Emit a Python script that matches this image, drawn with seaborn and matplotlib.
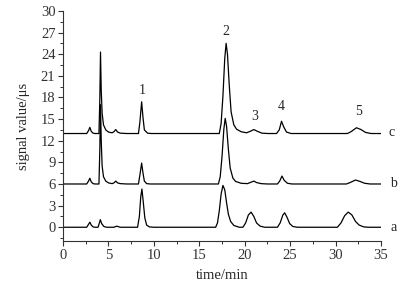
import pandas as pd
import matplotlib.pyplot as plt
import seaborn as sns
from matplotlib.ticker import MultipleLocator

# Chromatogram traces (time in min, signal above own baseline)
time_a = [0, 2.6, 2.8, 2.95, 3.1, 3.3, 3.5, 3.85, 4.0, 4.1, 4.25, 4.5, 4.8, 5.6, 5.9, 6.3,
          8.2, 8.4, 8.55, 8.68, 8.82, 9.0, 9.2, 9.5, 10, 16.8, 17.0, 17.2, 17.4, 17.6, 17.8,
          18.0, 18.2, 18.45, 18.8, 19.4, 19.8, 20.1, 20.4, 20.7, 21.0, 21.3, 21.7, 22.2, 23.6,
          23.9, 24.2, 24.4, 24.65, 24.95, 25.3, 25.8, 30.2, 30.6, 31.0, 31.4, 31.8, 32.2, 32.6,
          33.1, 33.6, 35]
sig_a = [0, 0, 0.4, 0.7, 0.3, 0.05, 0, 0, 0.6, 1.05, 0.5, 0.1, 0, 0, 0.15, 0,
         0, 1.5, 4.2, 5.3, 3.6, 1.3, 0.3, 0.05, 0, 0, 0.6, 2.3, 4.6, 5.8, 5.2,
         3.4, 1.8, 0.8, 0.25, 0, 0, 0.6, 1.7, 2.1, 1.5, 0.6, 0.15, 0, 0,
         0.6, 1.7, 2.0, 1.4, 0.5, 0.1, 0, 0, 0.6, 1.6, 2.1, 1.7, 0.8, 0.3,
         0.05, 0, 0]

time_b = [0, 2.6, 2.8, 2.95, 3.1, 3.3, 3.5, 3.95, 4.05, 4.12, 4.2, 4.3, 4.45, 4.7, 5.0, 5.4,
          5.6, 5.8, 6.0, 6.3, 7, 8.3, 8.45, 8.65, 8.8, 8.95, 9.2, 9.6, 17.1, 17.3, 17.5,
          17.7, 17.85, 18.0, 18.2, 18.4, 18.7, 19.0, 19.6, 20.3, 20.7, 21.0, 21.3, 21.8, 22.5,
          23.6, 23.85, 24.1, 24.35, 24.7, 25.2, 31.2, 31.6, 32.2, 32.7, 33.2, 33.8, 35]
sig_b = [0, 0, 0.4, 0.8, 0.3, 0.05, 0, 0, 5, 11, 6, 2.5, 1.0, 0.4, 0.15, 0.05,
         0.15, 0.4, 0.15, 0.05, 0, 0, 1.2, 2.9, 1.5, 0.4, 0.05, 0, 0, 1.0, 3.8,
         7.6, 9.1, 8.0, 4.8, 2.2, 0.8, 0.35, 0.1, 0.05, 0.25, 0.4, 0.2, 0.05, 0,
         0, 0.4, 1.1, 0.5, 0.1, 0, 0, 0.2, 0.55, 0.35, 0.1, 0, 0]

time_c = [0, 2.6, 2.8, 2.95, 3.1, 3.3, 3.5, 3.95, 4.05, 4.12, 4.2, 4.3, 4.45, 4.7, 5.0, 5.4,
          5.6, 5.8, 6.0, 6.3, 7, 8.3, 8.45, 8.65, 8.8, 8.95, 9.3, 9.7, 17.2, 17.4, 17.6,
          17.8, 17.95, 18.1, 18.3, 18.5, 18.8, 19.1, 19.6, 20.2, 20.6, 21.0, 21.4, 21.9, 22.6,
          23.5, 23.8, 24.05, 24.3, 24.6, 25.1, 31.3, 31.7, 32.3, 32.8, 33.3, 33.9, 35]
sig_c = [0, 0, 0.4, 0.85, 0.3, 0.05, 0, 0, 5, 11.3, 6, 2.8, 1.2, 0.5, 0.2, 0.1,
         0.25, 0.55, 0.2, 0.05, 0, 0, 1.5, 4.4, 2.2, 0.5, 0.05, 0, 0, 1.4, 5.2,
         10.4, 12.5, 11.0, 6.6, 3.0, 1.2, 0.6, 0.25, 0.1, 0.3, 0.55, 0.3, 0.05, 0,
         0, 0.5, 1.7, 0.9, 0.2, 0, 0, 0.25, 0.8, 0.55, 0.15, 0, 0]

trace_names = ['a', 'b', 'c']
trace_offsets = [0, 6, 13]

# Peak numbers and where their labels sit
peak_labels = ['1', '2', '3', '4', '5']
peak_label_x = [8.7, 17.9, 21.1, 24.0, 32.5]
peak_label_y = [19.0, 27.1, 15.3, 16.8, 16.0]
trace_label_x = [36.4, 36.4, 36.2]
trace_label_y = [-0.1, 6.1, 13.1]

# Build long-format table
rows = []
for name, off, t, s in zip(trace_names, trace_offsets,
                           [time_a, time_b, time_c], [sig_a, sig_b, sig_c]):
    for ti, si in zip(t, s):
        rows.append({'time': ti, 'signal': si + off, 'trace': name})
df = pd.DataFrame(rows)

sns.set_style('ticks')
plt.rcParams['font.family'] = ['Liberation Serif', 'DejaVu Serif']

fig = plt.figure(figsize=(4.15, 2.96), dpi=100)
ax = fig.add_axes([0.152, 0.186, 0.766, 0.777])

sns.lineplot(data=df, x='time', y='signal', hue='trace', units='trace',
             estimator=None, sort=False, palette=['black'] * 3,
             legend=False, linewidth=0.9, ax=ax)

for lab, x, y in zip(peak_labels, peak_label_x, peak_label_y):
    ax.text(x, y, lab, ha='center', va='center', fontsize=10, clip_on=False)
for lab, x, y in zip(trace_names, trace_label_x, trace_label_y):
    ax.text(x, y, lab, ha='center', va='center', fontsize=10, clip_on=False)

ax.set_xlim(0, 35)
ax.set_ylim(-1.9, 30)
ax.xaxis.set_major_locator(MultipleLocator(5))
ax.xaxis.set_minor_locator(MultipleLocator(2.5))
ax.yaxis.set_major_locator(MultipleLocator(3))
ax.yaxis.set_minor_locator(MultipleLocator(1.5))
ax.tick_params(which='major', direction='out', length=3.5, width=0.8,
               labelsize=10.5, colors='#333333', pad=2)
ax.tick_params(which='minor', direction='out', length=2, width=0.7, colors='#333333')
for side in ['left', 'bottom']:
    ax.spines[side].set_linewidth(0.8)
    ax.spines[side].set_color('#333333')
sns.despine(ax=ax)

ax.set_xlabel('time/min', fontsize=10.5, labelpad=5)
ax.set_ylabel('signal value/μs', fontsize=10.5, labelpad=8)

fig.savefig('out.png', dpi=100)
